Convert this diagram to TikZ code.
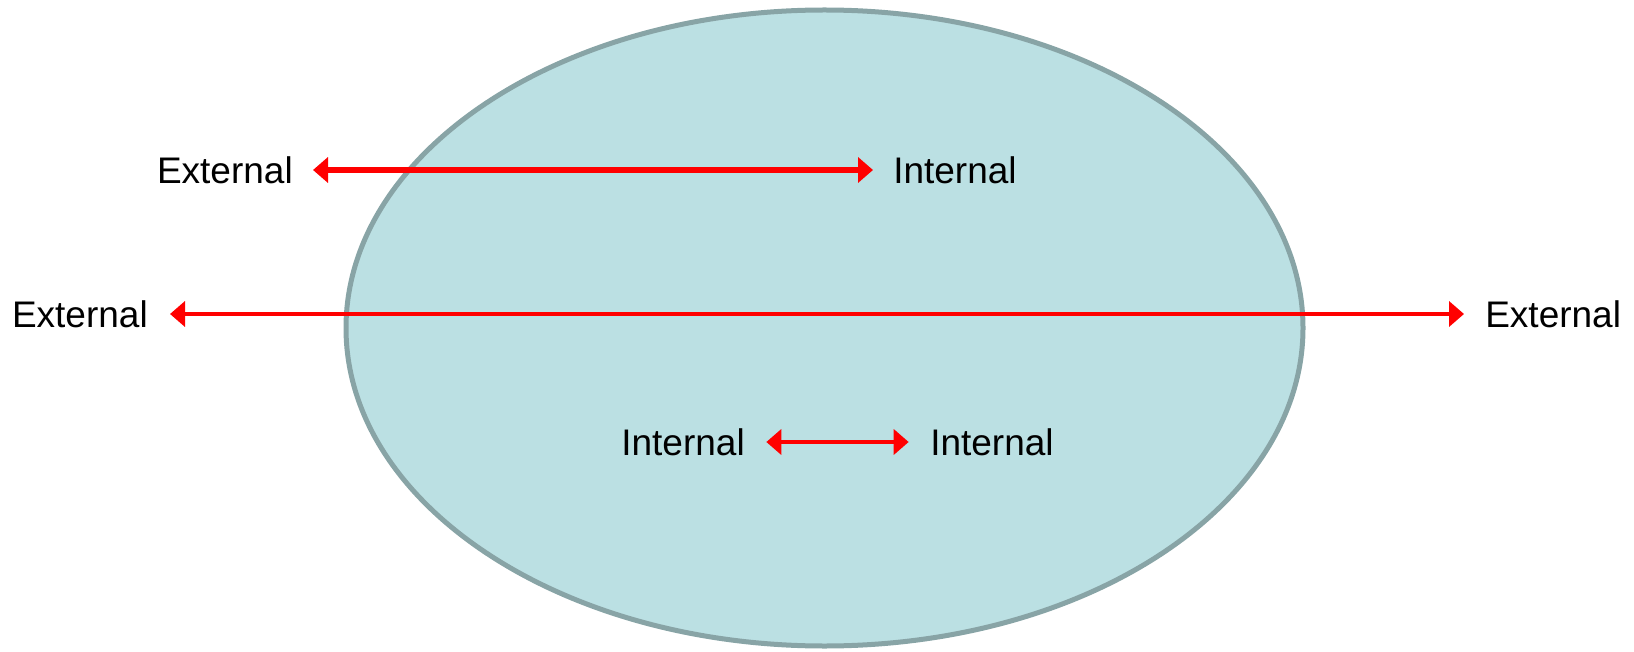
\documentclass[tikz,border=0pt]{standalone}
\usepackage{fontspec}
\setmainfont{Liberation Sans}
\usetikzlibrary{arrows.meta}

\definecolor{setfill}{RGB}{187,224,227}
\definecolor{setline}{RGB}{136,164,166}

\begin{document}
\begin{tikzpicture}[x=0.75pt,y=0.75pt,yscale=-1,xscale=1,
  lbl/.style={inner sep=0pt,font=\fontsize{27.75}{33}\selectfont},
  flow/.style={draw=red,line width=3.4pt,{Triangle[length=11.25pt,width=18.75pt]}-{Triangle[length=11.25pt,width=18.75pt]}}]
\useasboundingbox (0,0) rectangle (1634,652);

%Shape: Ellipse
\draw [setline,fill=setfill,line width=3.75pt] (824.5,328) ellipse [x radius=478.5,y radius=318];

% Text Node
\node [lbl,anchor=east] (extTop) at (293,170) {External};
% Text Node
\node [lbl,anchor=west] (intTop) at (893,170) {Internal};
% Text Node
\node [lbl,anchor=east] (extLeft) at (148,314) {External};
% Text Node
\node [lbl,anchor=west] (extRight) at (1485,314) {External};
% Text Node
\node [lbl,anchor=east] (intLeft) at (745,442) {Internal};
% Text Node
\node [lbl,anchor=west] (intRight) at (930,442) {Internal};

%Straight Lines
\draw [flow,line width=4.2pt] ([xshift=15pt]extTop.east) -- ([xshift=-15pt]intTop.west);
\draw [flow] ([xshift=16.5pt]extLeft.east) -- ([xshift=-15.75pt]extRight.west);
\draw [flow] ([xshift=16pt]intLeft.east) -- ([xshift=-16pt]intRight.west);

\end{tikzpicture}
\end{document}
